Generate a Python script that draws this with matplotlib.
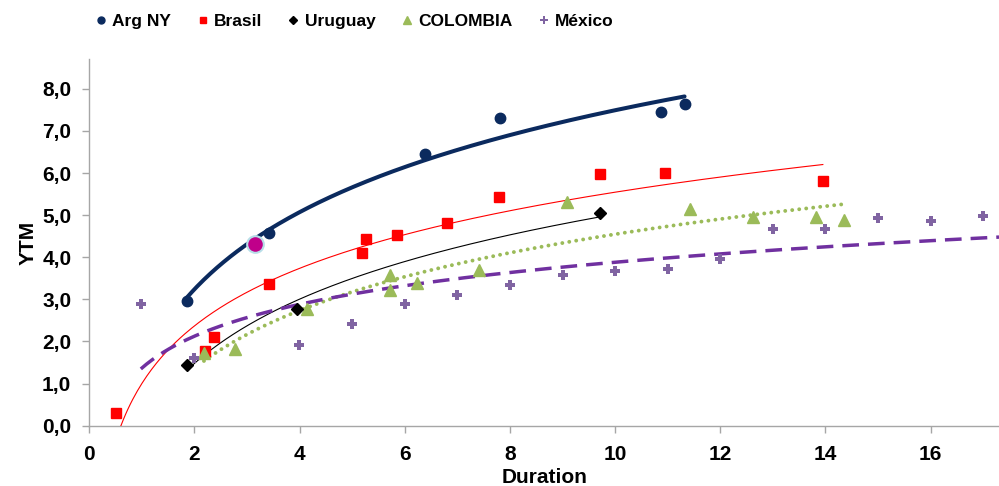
import numpy as np
import matplotlib.pyplot as plt
from matplotlib.lines import Line2D
from matplotlib.ticker import FuncFormatter

plt.rcParams['font.family'] = ['Liberation Sans', 'DejaVu Sans']
plt.rcParams['font.weight'] = 'bold'

# data (duration, YTM)
arg_dur = [1.86, 3.42, 6.38, 7.81, 10.88, 11.32]
arg_ytm = [2.97, 4.57, 6.45, 7.31, 7.44, 7.64]
hl_dur = [3.15]
hl_ytm = [4.32]

bra_dur = [0.51, 2.20, 2.38, 3.42, 5.18, 5.26, 5.86, 6.80, 7.79, 9.71, 10.94, 13.95]
bra_ytm = [0.31, 1.78, 2.10, 3.36, 4.11, 4.43, 4.52, 4.82, 5.42, 5.98, 5.99, 5.82]

uru_dur = [1.86, 3.95, 9.72]
uru_ytm = [1.44, 2.76, 5.06]

col_dur = [2.18, 2.78, 4.14, 5.72, 5.72, 6.24, 7.41, 9.09, 11.43, 12.62, 13.82, 14.35]
col_ytm = [1.72, 1.81, 2.76, 3.58, 3.22, 3.38, 3.70, 5.31, 5.15, 4.96, 4.96, 4.89]

mex_dur = [0.98, 2.0, 3.99, 5.0, 6.0, 7.0, 8.0, 9.0, 10.0, 11.0, 12.0, 13.0, 14.0, 15.0, 16.0, 17.0]
mex_ytm = [2.90, 1.62, 1.92, 2.41, 2.90, 3.10, 3.34, 3.58, 3.68, 3.72, 3.96, 4.67, 4.67, 4.93, 4.85, 4.99]

XMAX = 17.3
YMAX = 8.7


def log_trend(x, y, x0, x1):
    # excel style logarithmic trendline: y = a*ln(x) + b
    a, b = np.polyfit(np.log(x), y, 1)
    xs = np.linspace(x0, x1, 300)
    return xs, a * np.log(xs) + b


fig = plt.figure(figsize=(9.99, 4.86), dpi=100)
ax = fig.add_axes([0.0894, 0.124, 0.9106, 0.754])

navy = '#0B2A5E'
red = '#FF0000'
green = '#9BBB59'
purple = '#8064A2'

# trendlines
xs, ys = log_trend(arg_dur, arg_ytm, min(arg_dur), max(arg_dur))
ax.plot(xs, ys, color=navy, lw=2.9, solid_capstyle='round', zorder=3)
xs, ys = log_trend(bra_dur, bra_ytm, min(bra_dur), max(bra_dur))
ax.plot(xs, ys, color=red, lw=0.8, zorder=3)
xs, ys = log_trend(uru_dur, uru_ytm, min(uru_dur), max(uru_dur))
ax.plot(xs, ys, color='black', lw=0.8, zorder=3)
xs, ys = log_trend(col_dur, col_ytm, min(col_dur), max(col_dur))
ax.plot(xs, ys, color=green, lw=2.8, linestyle=(0, (0.01, 1.8)),
        dash_capstyle='round', zorder=3)
xs, ys = log_trend(mex_dur, mex_ytm, min(mex_dur), XMAX)
ax.plot(xs, ys, color='#7030A0', lw=2.5, linestyle=(0, (4.8, 2.6)), zorder=3)

# markers
ax.plot(arg_dur, arg_ytm, 'o', color=navy, ms=7.5, ls='none', zorder=4)
ax.plot(bra_dur, bra_ytm, 's', color=red, ms=7.5, ls='none', zorder=4)
ax.plot(uru_dur, uru_ytm, 'D', color='black', ms=6, ls='none', zorder=5)
ax.plot(col_dur, col_ytm, '^', color=green, ms=8, ls='none', zorder=4)
ax.plot(mex_dur, mex_ytm, 'P', color=purple, ms=7.5, mew=0, ls='none', zorder=4)
ax.plot(hl_dur, hl_ytm, 'o', color='#C0008A', mec='#B7DEE8', mew=1.5, ms=12, ls='none', zorder=6)

ax.set_xlim(0, XMAX)
ax.set_ylim(0, YMAX)
ax.set_xticks(np.arange(0, 17, 2))
ax.set_yticks(np.arange(0, 9, 1))
ax.yaxis.set_major_formatter(FuncFormatter(lambda v, p: f'{v:.1f}'.replace('.', ',')))

for s in ['top', 'right']:
    ax.spines[s].set_visible(False)
for s in ['left', 'bottom']:
    ax.spines[s].set_color('#A6A6A6')
    ax.spines[s].set_linewidth(1.0)
ax.tick_params(axis='both', colors='#A6A6A6', length=5, width=1.0, direction='out',
               labelcolor='black', labelsize=15)
ax.tick_params(axis='x', pad=9)
ax.tick_params(axis='y', pad=8)

ax.set_xlabel('Duration', fontsize=15, fontweight='bold', labelpad=3)
ax.set_ylabel('YTM', fontsize=15, fontweight='bold', labelpad=3)

handles = [
    Line2D([], [], marker='o', color=navy, ls='none', ms=5),
    Line2D([], [], marker='s', color=red, ls='none', ms=5),
    Line2D([], [], marker='D', color='black', ls='none', ms=4.5),
    Line2D([], [], marker='^', color=green, ls='none', ms=5.5),
    Line2D([], [], marker='P', color=purple, mew=0, ls='none', ms=6),
]
labels = ['Arg NY', 'Brasil', 'Uruguay', 'COLOMBIA', 'México']
fig.legend(handles, labels, loc='center left', bbox_to_anchor=(0.096, 0.956),
           ncol=5, frameon=False, borderpad=0, borderaxespad=0,
           handlelength=0.6, handletextpad=0.35, columnspacing=1.5,
           prop={'family': ['Liberation Sans', 'DejaVu Sans'],
                 'weight': 'bold', 'size': 12.5})

fig.savefig('out.png', dpi=100)
